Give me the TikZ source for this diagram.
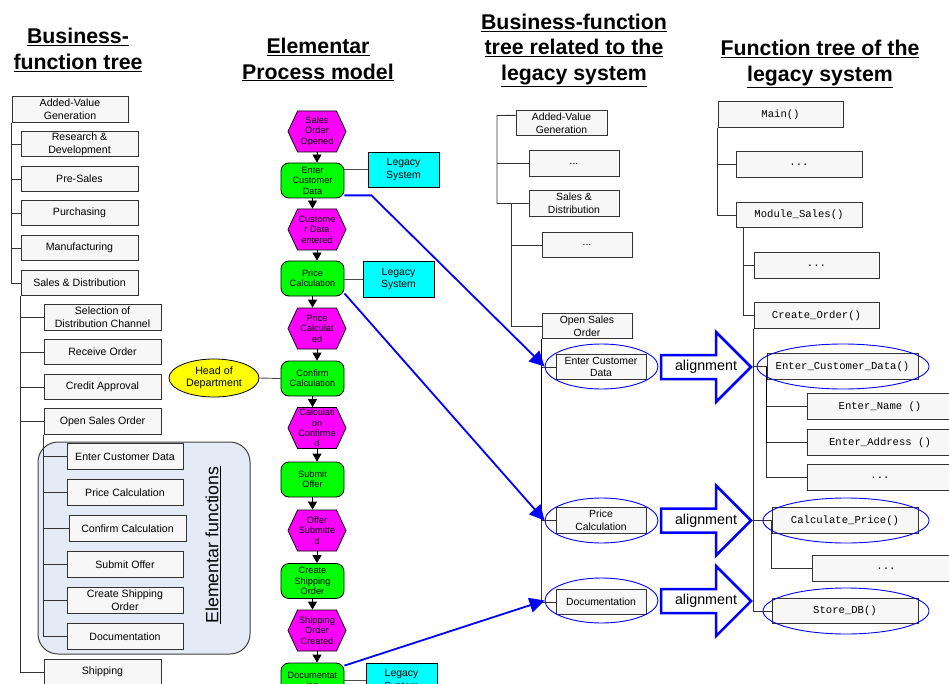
\documentclass[tikz,border=0pt]{standalone}
\usepackage{fontspec}
\setmainfont{Liberation Sans}
\setmonofont{Liberation Mono}
\usepackage{tikz}
\usetikzlibrary{arrows.meta,shapes.geometric,shapes.symbols}
\definecolor{boxfill}{HTML}{F7F7F7}
\definecolor{boxline}{HTML}{333333}
\definecolor{evmagenta}{HTML}{FF00FF}
\definecolor{fngreen}{HTML}{00FF00}
\definecolor{syscyan}{HTML}{00FFFF}
\definecolor{orgyellow}{HTML}{FFFF00}
\definecolor{mapblue}{HTML}{0000FF}
\definecolor{regionfill}{HTML}{E4EAF6}
\tikzset{
  colhead/.style={align=center,font=\fontsize{21.3}{25.8}\selectfont\bfseries},
  fnbox/.style={draw=boxline,fill=boxfill,line width=1pt,minimum width=117pt,
    minimum height=25.5pt,inner sep=0pt,align=center,font=\fontsize{10.6}{13}\selectfont},
  legbox/.style={fnbox,minimum width=90pt,font=\fontsize{10.4}{12.6}\selectfont},
  codebox/.style={fnbox,minimum width=125pt,font=\fontsize{10.6}{13}\ttfamily},
  evhex/.style={signal,signal to=west and east,signal pointer angle=130,draw=black,
    fill=evmagenta,line width=.8pt,minimum width=58pt,minimum height=41pt,inner sep=0pt,
    align=center,font=\fontsize{9.2}{10.4}\selectfont},
  fnround/.style={rounded corners=8pt,draw=black,fill=fngreen,line width=.8pt,
    minimum width=63pt,minimum height=35pt,inner sep=0pt,align=center,
    font=\fontsize{9.2}{10.4}\selectfont},
  sysbox/.style={draw=black,fill=syscyan,line width=.9pt,minimum width=71pt,
    minimum height=35pt,inner sep=0pt,align=center,font=\fontsize{10.4}{12.5}\selectfont},
  orgoval/.style={ellipse,draw=black,fill=orgyellow,line width=.8pt,minimum width=90pt,
    minimum height=38pt,inner sep=0pt,align=center,font=\fontsize{10.7}{12.3}\selectfont},
  treeline/.style={draw=black!80,line width=.9pt},
  flowarrow/.style={-{Triangle[length=8pt,width=9pt]},line width=.8pt},
  syslink/.style={draw=black!70,line width=.9pt},
  maparrow/.style={draw=mapblue,line width=1.8pt,-{Triangle[length=15pt,width=15pt]}},
  matchoval/.style={ellipse,draw=mapblue,line width=.9pt,minimum height=45pt},
  aligntext/.style={inner sep=0pt,font=\fontsize{14.3}{16}\selectfont},
  alignline/.style={draw=mapblue,line width=2.5pt}
}

\begin{document}
\begin{tikzpicture}[x=1pt,y=-1pt]
  \useasboundingbox (0,0) rectangle (949,684);
  \clip (0,0) rectangle (949,684);
  % one unit = one pixel of the 949x684 sheet, y pointing down
  \node[colhead] (h1) at (78,50) {\underline{Business-}\\\underline{function tree}};
  \node[colhead] (h2) at (318,59.5) {\underline{Elementar}\\\underline{Process model}};
  \node[colhead] (h3) at (574,50.5)
    {\underline{Business-function}\\\underline{tree related to the}\\\underline{legacy system}};
  \node[colhead] (h4) at (820,64) {\underline{Function tree of the}\\\underline{legacy system}};

  % business-function tree
  \draw[black!75,fill=regionfill,line width=1pt,rounded corners=20pt]
    (38,442) rectangle (250,654);
  \node[fnbox,minimum width=116pt] (av1) at (70,109.5) {Added-Value\\Generation};
  \node[fnbox] (rd1) at (79.5,144) {Research \&\\Development};
  \node[fnbox] (ps1) at (79.5,179) {Pre-Sales};
  \node[fnbox] (pu1) at (79.5,213) {Purchasing};
  \node[fnbox] (mf1) at (79.5,248) {Manufacturing};
  \node[fnbox] (sd1) at (79.5,283) {Sales \& Distribution};
  \node[fnbox] (sc1) at (102.5,317.5) {Selection of\\Distribution Channel};
  \node[fnbox] (ro1) at (102.5,352) {Receive Order};
  \node[fnbox] (ca1) at (102.5,387) {Credit Approval};
  \node[fnbox] (os1) at (102.5,421.5) {Open Sales Order};
  \node[fnbox,minimum width=116pt] (ecd1) at (125,456.5) {Enter Customer Data};
  \node[fnbox,minimum width=116pt] (pc1) at (125,492.5) {Price Calculation};
  \node[fnbox] (cc1) at (127.5,528.5) {Confirm Calculation};
  \node[fnbox,minimum width=116pt] (so1) at (125,564.5) {Submit Offer};
  \node[fnbox,minimum width=116pt] (cs1) at (125,600.5) {Create Shipping\\Order};
  \node[fnbox,minimum width=116pt] (doc1) at (125,636.5) {Documentation};
  \node[fnbox] (sh1) at (102.5,672) {Shipping};
  \node[rotate=90,font=\fontsize{17.8}{20}\selectfont] (ef1) at (213,545)
    {\underline{Elementar functions}};
  \foreach \n in {rd1,ps1,pu1,mf1,sd1}
    \draw[treeline] (av1.south west) |- (\n.west);
  \foreach \n in {sc1,ro1,ca1,os1,sh1}
    \draw[treeline] (sd1.south west) |- (\n.west);
  \foreach \n in {ecd1,pc1,cc1,so1,cs1,doc1}
    \draw[treeline] (os1.south west) |- (\n.west);

  % elementar process model
  \node[evhex] (ev1) at (317,131.5) {Sales\\Order\\Opened};
  \node[fnround] (fn1) at (312.5,180.5) {Enter\\Customer\\Data};
  \node[evhex] (ev2) at (317,229.5) {Custome\\r Data\\entered};
  \node[fnround] (fn2) at (312.5,278.5) {Price\\Calculation};
  \node[evhex] (ev3) at (317,328.5) {Price\\Calculat\\ed};
  \node[fnround] (fn3) at (312.5,378.5) {Confirm\\Calculation};
  \node[evhex] (ev4) at (317,428) {Calculati\\on\\Confirme\\d};
  \node[fnround] (fn4) at (312.5,479.5) {Submit\\Offer};
  \node[evhex] (ev5) at (317,530.5) {Offer\\Submitte\\d};
  \node[fnround] (fn5) at (312.5,581) {Create\\Shipping\\Order};
  \node[evhex] (ev6) at (317,630.5) {Shipping\\Order\\Created};
  \node[fnround] (fn6) at (312.5,680.5) {Documentat\\ion};
  \foreach \e/\f in {ev1/fn1,ev2/fn2,ev3/fn3,ev4/fn4,ev5/fn5,ev6/fn6}
    \draw[flowarrow] (\e.south) -- (\e.south |- \f.north);
  \foreach \f/\e in {fn1/ev2,fn2/ev3,fn3/ev4,fn4/ev5,fn5/ev6}
    \draw[flowarrow] (\f.south) -- (\f.south |- \e.north);
  \node[sysbox] (ls1) at (403.5,169.5) {Legacy\\System};
  \node[sysbox,minimum height=36pt] (ls2) at (398.5,279) {Legacy\\System};
  \node[sysbox] (ls3) at (401.5,680.5) {Legacy\\System};
  \node[orgoval] (hod) at (214,378) {Head of\\Department};
  \draw[syslink] (ls1.west) -- (ls1.west -| fn1.east);
  \draw[syslink] (ls2.west) -- (ls2.west -| fn2.east);
  \draw[syslink] (ls3.west) -- (ls3.west -| fn6.east);
  \draw[syslink] (hod.east) -- (fn3.west);

  % tree related to the legacy system
  \node[legbox,minimum width=91pt,minimum height=25pt] (av3) at (561.5,123.5)
    {Added-Value\\Generation};
  \node[legbox] (d31) at (574,163.5) {...};
  \node[legbox] (sd3) at (574,203.5) {Sales \&\\Distribution};
  \node[legbox] (d32) at (587,245) {...};
  \node[legbox] (os3) at (587,326) {Open Sales\\Order};
  \node[legbox] (ecd3) at (601,367) {Enter Customer\\Data};
  \node[legbox] (pc3) at (601,520.5) {Price\\Calculation};
  \node[legbox] (doc3) at (601,602) {Documentation};
  \coordinate (t3a) at (497,115.5);
  \coordinate (t3b) at (511,203.5);
  \draw[treeline] (av3.170) -- (t3a) |- (sd3.west);
  \draw[treeline] (t3a |- d31.west) -- (d31.west);
  \draw[treeline] (t3b) |- (os3.west);
  \draw[treeline] (t3b |- d32.west) -- (d32.west);
  \foreach \n in {ecd3,pc3,doc3}
    \draw[treeline] (os3.south west) |- (\n.west);
  \draw[treeline,draw=black,line width=1.5pt] (os3.south west) -- (os3.south west |- pc3.west);
  \node[matchoval,minimum width=113pt] (m31) at (601.5,366.5) {};
  \node[matchoval,minimum width=113pt] (m32) at (601.5,520.5) {};
  \node[matchoval,minimum width=113pt] (m33) at (601.5,600.5) {};
  \draw[maparrow] (fn1.-25) -- ++(27,0) -- (m31.west);
  \draw[maparrow] (fn2.-25) -- (m32.west);
  \draw[maparrow] (fn6.25) -- (m33.west);
  \node[aligntext] (al1) at (706,367) {alignment};
  \node[aligntext] (al2) at (706,520.5) {alignment};
  \node[aligntext] (al3) at (706,601) {alignment};
  \foreach \a in {al1,al2,al3}
    \draw[alignline] (\a.center) ++(-45,-12) -- ++(55,0) -- ++(0,-23) -- ++(35,35)
      -- ++(-35,35) -- ++(0,-23) -- ++(-55,0) -- cycle;

  % function tree of the legacy system
  \node[codebox] (mn4) at (780.5,114.5) {Main()};
  \node[codebox,minimum width=126pt] (d41) at (799,164.5) {...};
  \node[codebox,minimum width=126pt] (ms4) at (799,215) {Module\_Sales()};
  \node[codebox] (d42) at (816.5,265.5) {...};
  \node[codebox] (co4) at (816.5,315.5) {Create\_Order()};
  \node[codebox,minimum width=151pt] (ecd4) at (842.5,366.5) {Enter\_Customer\_Data()};
  \node[codebox,minimum width=146pt] (en4) at (880,406.5) {Enter\_Name ()};
  \node[codebox,minimum width=146pt] (ea4) at (880,442.5) {Enter\_Address ()};
  \node[codebox,minimum width=146pt] (d43) at (880,477.5) {...};
  \node[codebox,minimum width=146pt] (cp4) at (845,520.5) {Calculate\_Price()};
  \node[codebox,minimum width=148pt] (d44) at (886,568.5) {...};
  \node[codebox,minimum width=146pt] (sd4) at (845,611) {Store\_DB()};
  \coordinate (t4b) at (743,228);
  \foreach \n in {d41,ms4}
    \draw[treeline] (mn4.south west) |- (\n.west);
  \foreach \n in {d42,co4}
    \draw[treeline] (t4b) |- (\n.west);
  \foreach \n in {ecd4,cp4,sd4}
    \draw[treeline] (co4.south west) |- (\n.west);
  \foreach \n in {en4,ea4,d43}
    \draw[treeline] (ecd4.west) |- (\n.west);
  \draw[treeline,draw=black,line width=1.5pt] (ecd4.west) -- (ecd4.west |- ea4.west);
  \draw[treeline] (cp4.west) |- (d44.west);
  \node[matchoval,minimum width=172pt] (m41) at (843,366.5) {};
  \node[matchoval,minimum width=166pt] (m42) at (846,520.5) {};
  \node[matchoval,minimum width=166pt,minimum height=46pt] (m43) at (846,611) {};
\end{tikzpicture}
\end{document}
